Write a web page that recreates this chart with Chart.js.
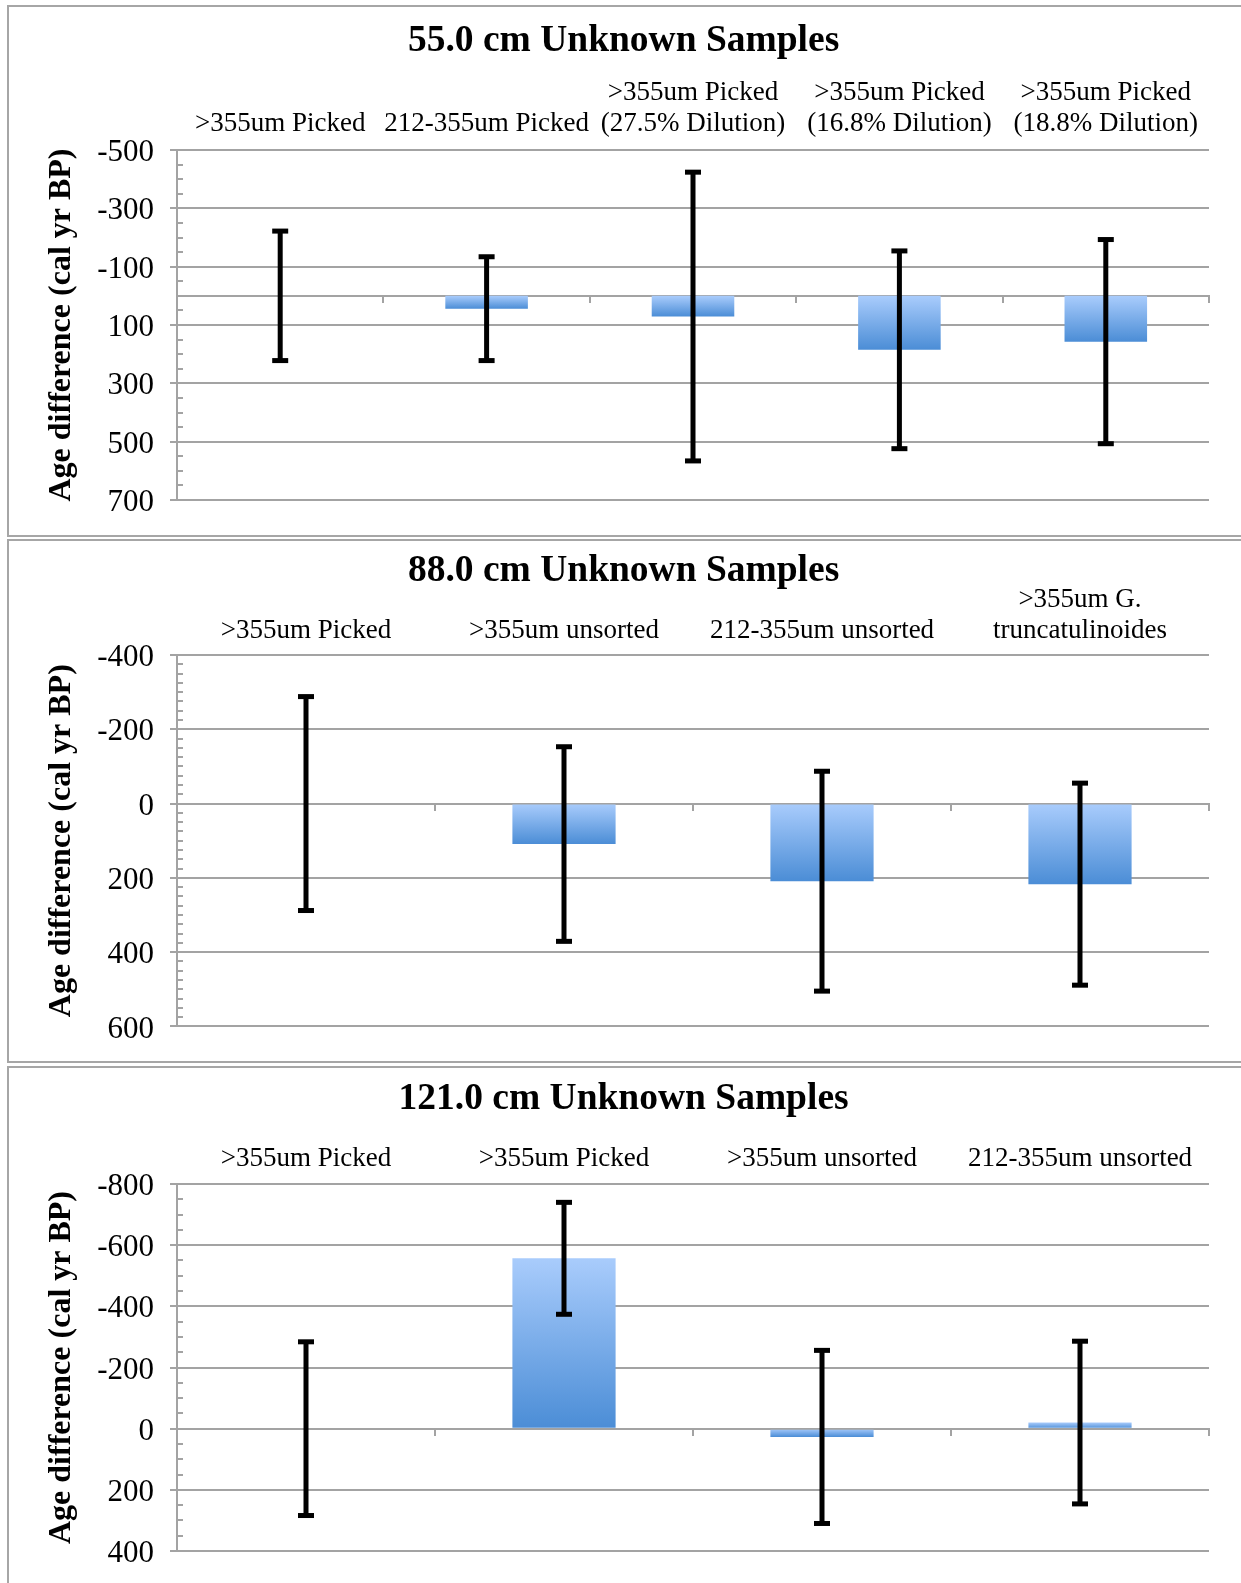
<!DOCTYPE html>
<html>
<head>
<meta charset="utf-8">
<script src="https://cdn.jsdelivr.net/npm/chart.js@4.4.1/dist/chart.umd.min.js"></script>
<style>
  html, body { margin: 0; padding: 0; background: #fff; }
  body { width: 1241px; height: 1583px; position: relative; overflow: hidden; }
  .panel { position: absolute; left: 7px; width: 1300px; border: 2px solid #a6a6a6; background: #fff; }
  .panel canvas { position: absolute; left: 0; top: 0; }
</style>
</head>
<body>
<div class="panel" id="p1" style="top:5px;height:528px"><canvas id="chart55" width="1240" height="528"></canvas></div>
<div class="panel" id="p2" style="top:539px;height:520px"><canvas id="chart88" width="1240" height="520"></canvas></div>
<div class="panel" id="p3" style="top:1066px;height:540px"><canvas id="chart121" width="1240" height="540"></canvas></div>
<script>
// 55.0 cm
const labels55 = ['>355um Picked', '212-355um Picked', ['>355um Picked', '(27.5% Dilution)'], ['>355um Picked', '(16.8% Dilution)'], ['>355um Picked', '(18.8% Dilution)']];
const diff55 = [0, 44, 71, 185, 157];
const err55 = [222, 178, 495, 339, 350];

// 88.0 cm
const labels88 = ['>355um Picked', '>355um unsorted', '212-355um unsorted', ['>355um G.', 'truncatulinoides']];
const diff88 = [0, 109, 209, 217];
const err88 = [288, 262, 296, 272];

// 121.0 cm
const labels121 = ['>355um Picked', '>355um Picked', '>355um unsorted', '212-355um unsorted'];
const diff121 = [0, -557, 27, -20];
const err121 = [284, 183, 283, 266];

const GRID = '#a3a3a3';
const SERIF = "'Liberation Serif', 'Times New Roman', serif";

const errorBars = {
  id: 'errorBars',
  afterDatasetsDraw(chart) {
    const ds = chart.data.datasets[0];
    const meta = chart.getDatasetMeta(0);
    const y = chart.scales.y;
    const ctx = chart.ctx;
    ctx.save();
    ctx.strokeStyle = '#000';
    ctx.fillStyle = '#000';
    ctx.lineWidth = 5;
    meta.data.forEach((bar, i) => {
      const v = ds.data[i];
      const e = ds.errors[i];
      const top = y.getPixelForValue(v - e);
      const bot = y.getPixelForValue(v + e);
      ctx.beginPath();
      ctx.moveTo(bar.x, top);
      ctx.lineTo(bar.x, bot);
      ctx.stroke();
      ctx.fillRect(bar.x - 8, top - 2.5, 16, 5);
      ctx.fillRect(bar.x - 8, bot - 2.5, 16, 5);
    });
    ctx.restore();
  }
};

const minorTicks = {
  id: 'minorTicks',
  beforeDatasetsDraw(chart, args, opts) {
    const y = chart.scales.y;
    const ctx = chart.ctx;
    const left = chart.chartArea.left;
    ctx.save();
    ctx.strokeStyle = GRID;
    ctx.lineWidth = 2;
    for (let v = y.min; v <= y.max; v += opts.step) {
      if ((v - y.min) % 200 === 0) continue;
      const py = Math.round(y.getPixelForValue(v));
      ctx.beginPath();
      ctx.moveTo(left, py);
      ctx.lineTo(left + 6, py);
      ctx.stroke();
    }
    ctx.restore();
  }
};

function barGradient(c) {
  const chart = c.chart;
  if (c.type !== 'data' || !chart.chartArea) return '#7fb0ea';
  const y = chart.scales.y;
  const p0 = y.getPixelForValue(0);
  const p1 = y.getPixelForValue(c.raw);
  const top = Math.min(p0, p1), bot = Math.max(p0, p1);
  if (bot - top < 1) return '#7fb0ea';
  const g = chart.ctx.createLinearGradient(0, top, 0, bot);
  g.addColorStop(0, '#a9ccfc');
  g.addColorStop(1, '#4b8dd6');
  return g;
}

function makePanel(id, title, labels, diffs, errs, yMin, yMax, minorStep, lay) {
  return new Chart(document.getElementById(id), {
    type: 'bar',
    data: {
      labels: labels,
      datasets: [{
        data: diffs,
        errors: errs,
        xAxisID: 'x',
        yAxisID: 'y',
        backgroundColor: barGradient,
        borderWidth: 0,
        barPercentage: 0.4,
        categoryPercentage: 1
      }]
    },
    options: {
      responsive: false,
      animation: false,
      devicePixelRatio: 1,
      layout: { padding: { left: 0, right: 10.8, top: 0, bottom: lay.bottom } },
      plugins: {
        legend: { display: false },
        tooltip: { enabled: false },
        title: {
          display: true,
          text: title,
          color: '#000',
          font: { family: SERIF, size: 37.5, weight: 'bold', lineHeight: 0.6 },
          padding: { top: lay.titleTop, bottom: 0 }
        },
        minorTicks: { step: minorStep }
      },
      scales: {
        x: {
          type: 'category',
          position: 'top',
          offset: true,
          grid: { display: false, drawTicks: false },
          border: { display: false },
          ticks: {
            color: '#000',
            font: { family: SERIF, size: 27, lineHeight: 1.15 },
            padding: lay.labelPad,
            maxRotation: 0,
            minRotation: 0,
            autoSkip: false
          },
          afterFit: s => { s.height = lay.xHeight; }
        },
        x2: {
          type: 'category',
          axis: 'x',
          position: { y: 0 },
          offset: true,
          z: 1,
          grid: { offset: true, drawOnChartArea: false, drawTicks: true, tickLength: 6, color: GRID, lineWidth: 2 },
          border: { display: true, color: GRID, width: 2 },
          ticks: { display: false, autoSkip: false }
        },
        y: {
          type: 'linear',
          position: 'left',
          reverse: true,
          min: yMin,
          max: yMax,
          grid: { color: GRID, lineWidth: 2, tickLength: 7, drawTicks: true },
          border: { display: true, color: GRID, width: 2 },
          ticks: {
            stepSize: 200,
            color: '#000',
            padding: 16,
            labelOffset: 3,
            font: { family: SERIF, size: 31 }
          },
          title: {
            display: true,
            text: 'Age difference (cal yr BP)',
            color: '#000',
            font: { family: SERIF, size: 32, weight: 'bold', lineHeight: 1.2 },
            padding: { top: 34, bottom: 0 }
          },
          afterFit: s => { s.width = 168; }
        },
        yR: {
          type: 'linear',
          position: 'right',
          display: true,
          grid: { display: false, drawTicks: false },
          border: { display: false },
          ticks: { display: false },
          afterFit: s => { s.width = 29.2; }
        }
      }
    },
    plugins: [errorBars, minorTicks]
  });
}

makePanel('chart55', '55.0 cm Unknown Samples', labels55, diff55, err55, -500, 700, 50,
  { titleTop: 23, xHeight: 97.5, labelPad: 10.5, bottom: 35 });
makePanel('chart88', '88.0 cm Unknown Samples', labels88, diff88, err88, -400, 600, 25,
  { titleTop: 19, xHeight: 72.5, labelPad: 9, bottom: 34.4 });
makePanel('chart121', '121.0 cm Unknown Samples', labels121, diff121, err121, -800, 400, 50,
  { titleTop: 20.5, xHeight: 73, labelPad: 9.5, bottom: 57 });
</script>
</body>
</html>
